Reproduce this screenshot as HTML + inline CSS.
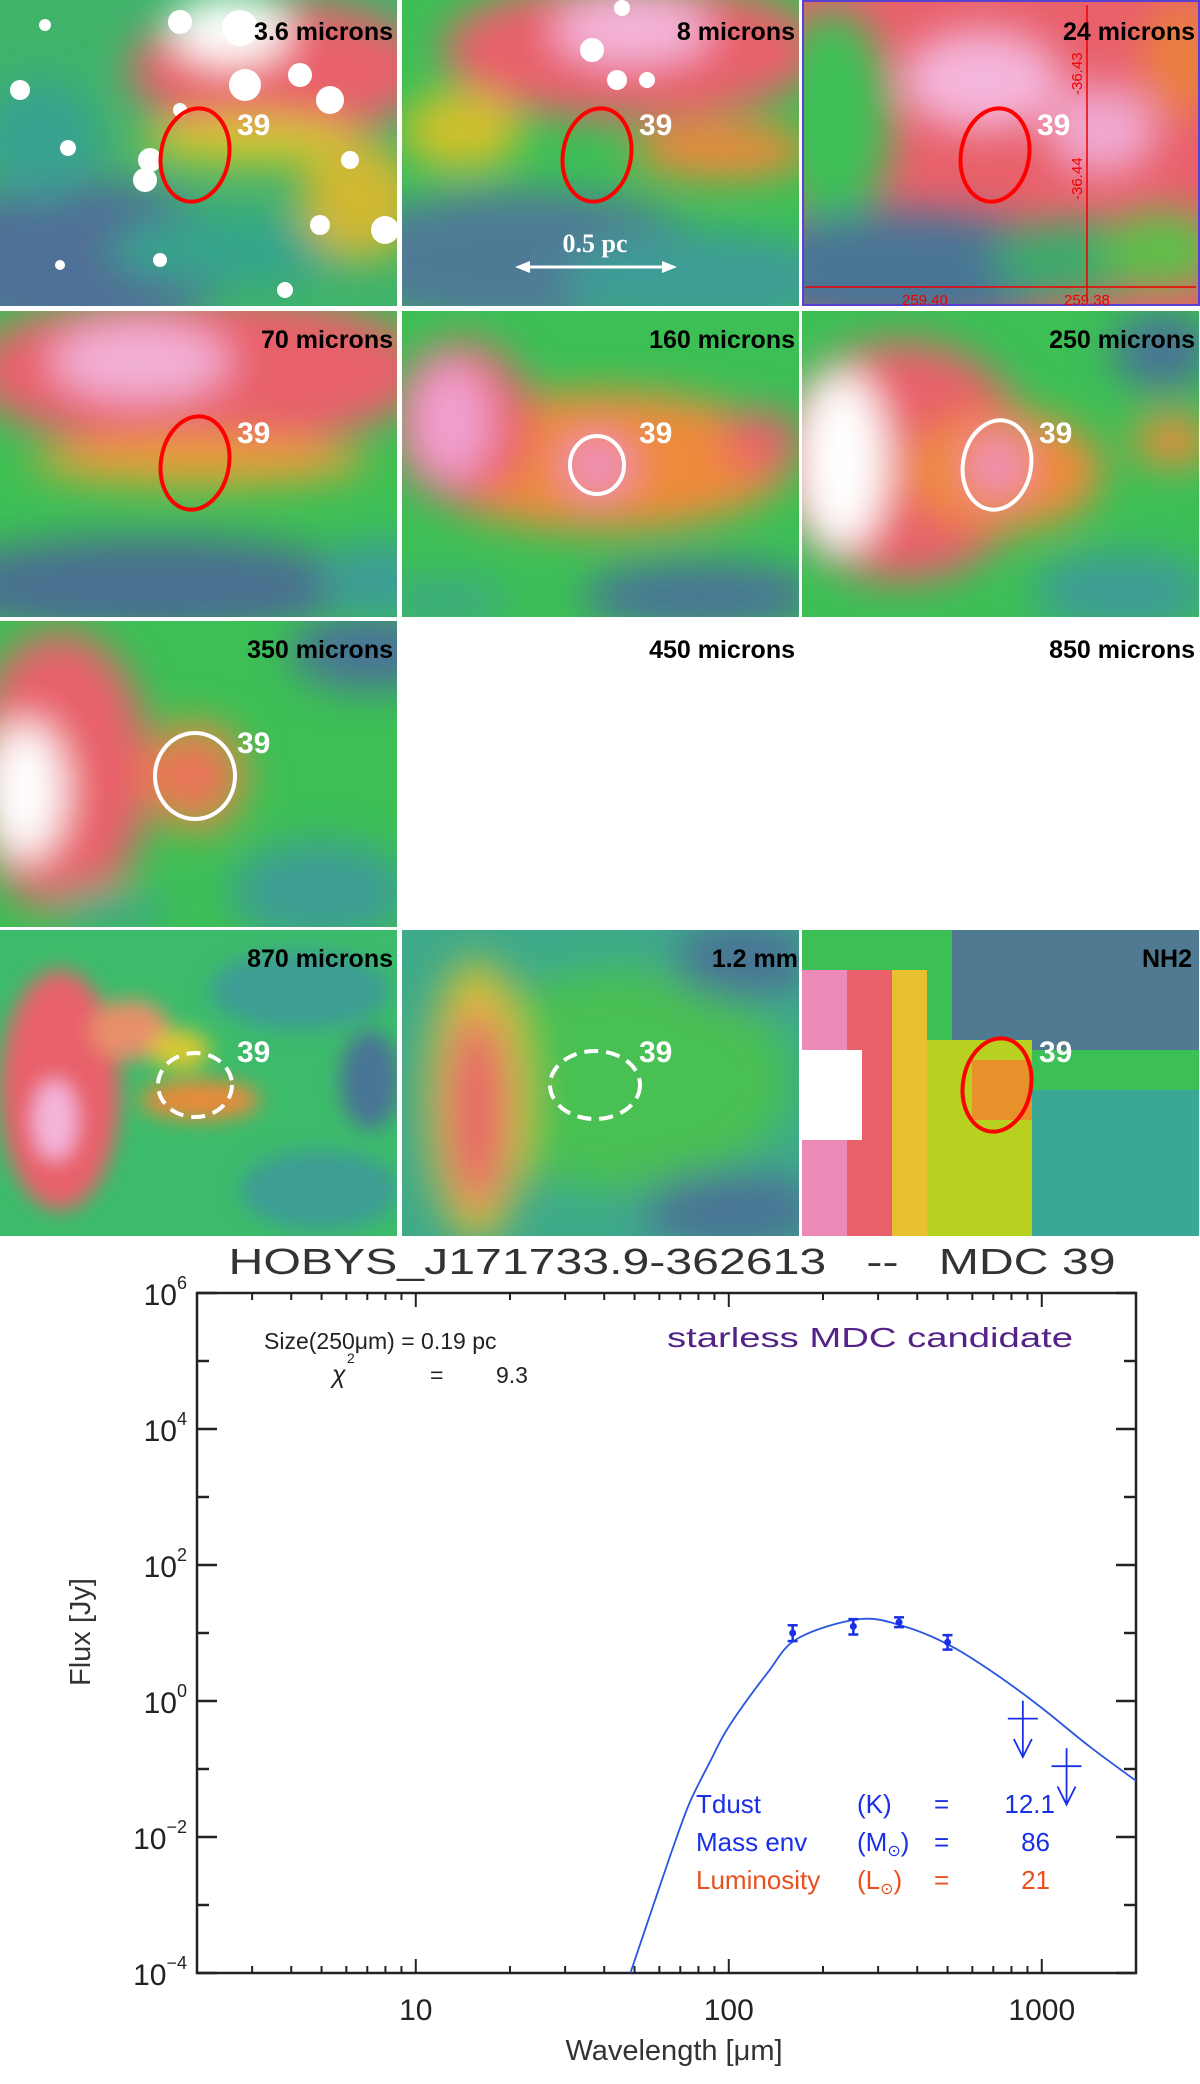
<!DOCTYPE html>
<html><head><meta charset="utf-8"><style>
html,body{margin:0;padding:0;background:#fff;}
svg{display:block;font-family:"Liberation Sans",sans-serif;}
.pl{font-weight:bold;font-size:25px;fill:#000;text-anchor:end;}
.id{font-weight:bold;font-size:30px;fill:#fff;}
</style></head><body>
<svg id="fig" width="1200" height="2084" viewBox="0 0 1200 2084">
<defs>
<filter id="b" x="-30%" y="-30%" width="160%" height="160%"><feGaussianBlur stdDeviation="20"/></filter>
<filter id="b2" x="-30%" y="-30%" width="160%" height="160%"><feGaussianBlur stdDeviation="10"/></filter>
<clipPath id="cp"><rect x="0" y="0" width="397" height="306"/></clipPath>
</defs>

<g transform="translate(0,0)">
<g clip-path="url(#cp)"><rect width="397" height="306" fill="#3fb36a"/>
<g filter="url(#b)">
<ellipse cx="80" cy="260" rx="150" ry="80" fill="#4f6f96"/>
<ellipse cx="40" cy="140" rx="60" ry="60" fill="#38a290"/>
<ellipse cx="230" cy="250" rx="120" ry="35" fill="#35a48c"/>
<ellipse cx="280" cy="70" rx="150" ry="70" fill="#e8606a"/>
<ellipse cx="250" cy="140" rx="110" ry="25" fill="#d4c62c"/>
<ellipse cx="360" cy="200" rx="60" ry="60" fill="#d0b830"/>
<ellipse cx="230" cy="30" rx="60" ry="35" fill="#fff"/>
</g>
<g fill="#fff">
<circle cx="240" cy="28" r="18"/><circle cx="180" cy="22" r="12"/><circle cx="245" cy="85" r="16"/><circle cx="300" cy="75" r="12"/><circle cx="330" cy="100" r="14"/><circle cx="150" cy="160" r="12"/><circle cx="145" cy="180" r="12"/><circle cx="68" cy="148" r="8"/><circle cx="385" cy="230" r="14"/><circle cx="320" cy="225" r="10"/><circle cx="45" cy="25" r="6"/><circle cx="160" cy="260" r="7"/><circle cx="60" cy="265" r="5"/><circle cx="350" cy="160" r="9"/><circle cx="285" cy="290" r="8"/><circle cx="20" cy="90" r="10"/><circle cx="180" cy="110" r="7"/>
</g></g>
<ellipse cx="195" cy="155" rx="34" ry="47" transform="rotate(10 195 155)" fill="none" stroke="#f00" stroke-width="4"/>
<text class="id" x="237" y="135">39</text>
<text class="pl" x="393" y="40">3.6 microns</text>
</g>

<g transform="translate(402,0)">
<g clip-path="url(#cp)"><rect width="397" height="306" fill="#3cbf55"/>
<g filter="url(#b)">
<ellipse cx="120" cy="260" rx="190" ry="70" fill="#4f7a96"/>
<ellipse cx="300" cy="280" rx="140" ry="50" fill="#3e9d95"/>
<ellipse cx="230" cy="50" rx="190" ry="70" fill="#e8606a"/>
<ellipse cx="230" cy="30" rx="80" ry="35" fill="#f4b6dc"/>
<ellipse cx="60" cy="130" rx="60" ry="40" fill="#d0c02c"/>
<ellipse cx="320" cy="150" rx="90" ry="30" fill="#e88a3a"/>
</g>
<g fill="#fff"><circle cx="190" cy="50" r="12"/><circle cx="215" cy="80" r="10"/><circle cx="245" cy="80" r="8"/><circle cx="220" cy="8" r="8"/></g></g>
<ellipse cx="195" cy="155" rx="34" ry="47" transform="rotate(10 195 155)" fill="none" stroke="#f00" stroke-width="4"/>
<text class="id" x="237" y="135">39</text>
<text class="pl" x="393" y="40">8 microns</text>
<g>
<line x1="120" y1="267" x2="268" y2="267" stroke="#fff" stroke-width="3"/>
<path d="M113 267 L128 261 L128 273 Z M275 267 L260 261 L260 273 Z" fill="#fff"/>
<text x="193" y="252" text-anchor="middle" font-family="Liberation Serif,serif" font-weight="bold" font-size="26" fill="#fff">0.5 pc</text>
</g>
</g>

<g transform="translate(802,0)">
<g clip-path="url(#cp)"><rect width="398" height="306" fill="#e8606a"/>
<g filter="url(#b)">
<ellipse cx="30" cy="120" rx="60" ry="110" fill="#3cbf55"/>
<ellipse cx="100" cy="270" rx="170" ry="60" fill="#4a7595"/>
<ellipse cx="270" cy="260" rx="80" ry="40" fill="#3eaa6a"/>
<ellipse cx="360" cy="250" rx="60" ry="40" fill="#5ec04a"/>
<ellipse cx="180" cy="80" rx="80" ry="50" fill="#f4b6dc"/>
<ellipse cx="300" cy="130" rx="55" ry="45" fill="#f0a8d0"/>
<ellipse cx="380" cy="60" rx="40" ry="60" fill="#ea8040"/>
</g></g>
<rect x="1" y="1" width="396" height="304" fill="none" stroke="#5a40d0" stroke-width="2"/>
<line x1="285" y1="5" x2="285" y2="300" stroke="#e00" stroke-width="1.5"/>
<line x1="3" y1="287" x2="394" y2="287" stroke="#e00" stroke-width="1.5"/>
<text transform="translate(280,95) rotate(-90)" font-size="15" fill="#e00">-36.43</text>
<text transform="translate(280,200) rotate(-90)" font-size="15" fill="#e00">-36.44</text>
<text x="100" y="305" font-size="15" fill="#e00">259.40</text><text x="262" y="305" font-size="15" fill="#e00">259.38</text>
<ellipse cx="193" cy="155" rx="34" ry="47" transform="rotate(10 193 155)" fill="none" stroke="#f00" stroke-width="4"/>
<text class="id" x="235" y="135">39</text>
<text class="pl" x="393" y="40">24 microns</text>
</g>

<g transform="translate(0,311)">
<g clip-path="url(#cp)"><rect width="397" height="306" fill="#3cbf55"/>
<g filter="url(#b)">
<ellipse cx="200" cy="60" rx="230" ry="80" fill="#e8606a"/>
<ellipse cx="140" cy="50" rx="90" ry="40" fill="#f2b0d6"/>
<ellipse cx="200" cy="150" rx="170" ry="25" fill="#e8a030"/>
<ellipse cx="150" cy="275" rx="220" ry="50" fill="#4a7090"/>
<ellipse cx="380" cy="270" rx="60" ry="40" fill="#3e9d95"/>
</g></g>
<ellipse cx="195" cy="152" rx="34" ry="47" transform="rotate(10 195 152)" fill="none" stroke="#f00" stroke-width="4"/>
<text class="id" x="237" y="132">39</text>
<text class="pl" x="393" y="37">70 microns</text>
</g>

<g transform="translate(402,311)">
<g clip-path="url(#cp)"><rect width="397" height="306" fill="#3cbf55"/>
<g filter="url(#b)">
<ellipse cx="200" cy="150" rx="190" ry="70" fill="#ee8a3a"/>
<ellipse cx="60" cy="110" rx="70" ry="80" fill="#e8606a"/>
<ellipse cx="50" cy="110" rx="40" ry="60" fill="#f0a0d0"/>
<ellipse cx="195" cy="155" rx="35" ry="30" fill="#f090c0"/>
<ellipse cx="360" cy="130" rx="40" ry="30" fill="#e8606a"/>
<ellipse cx="300" cy="285" rx="120" ry="35" fill="#4a7595"/>
<ellipse cx="40" cy="290" rx="70" ry="25" fill="#3eaa80"/>
</g></g>
<ellipse cx="195" cy="154" rx="27" ry="29" fill="none" stroke="#fff" stroke-width="4"/>
<text class="id" x="237" y="132">39</text>
<text class="pl" x="393" y="37">160 microns</text>
</g>

<g transform="translate(802,311)">
<g clip-path="url(#cp)"><rect width="398" height="306" fill="#3cbf55"/>
<g filter="url(#b)">
<ellipse cx="100" cy="150" rx="130" ry="120" fill="#e8606a"/>
<ellipse cx="40" cy="150" rx="45" ry="90" fill="#fff"/>
<ellipse cx="200" cy="160" rx="100" ry="60" fill="#ee8a3a"/>
<ellipse cx="195" cy="155" rx="30" ry="30" fill="#f090c0"/>
<ellipse cx="370" cy="130" rx="40" ry="25" fill="#ee8a3a"/>
<ellipse cx="360" cy="40" rx="50" ry="40" fill="#4a7595"/>
<ellipse cx="320" cy="280" rx="90" ry="40" fill="#3e9d95"/>
</g></g>
<ellipse cx="195" cy="154" rx="34" ry="45" transform="rotate(10 195 154)" fill="none" stroke="#fff" stroke-width="4"/>
<text class="id" x="237" y="132">39</text>
<text class="pl" x="393" y="37">250 microns</text>
</g>

<g transform="translate(0,621)">
<g clip-path="url(#cp)"><rect width="397" height="306" fill="#3cbf55"/>
<g filter="url(#b)">
<ellipse cx="60" cy="150" rx="90" ry="140" fill="#e8606a"/>
<ellipse cx="25" cy="170" rx="40" ry="70" fill="#fff"/>
<ellipse cx="195" cy="155" rx="50" ry="55" fill="#e88a3a"/>
<ellipse cx="195" cy="155" rx="25" ry="25" fill="#e8606a"/>
<ellipse cx="370" cy="30" rx="80" ry="40" fill="#4a7595"/>
<ellipse cx="320" cy="270" rx="90" ry="50" fill="#3e9d95"/>
<ellipse cx="110" cy="290" rx="60" ry="25" fill="#3eaa80"/>
</g></g>
<ellipse cx="195" cy="155" rx="40" ry="43" fill="none" stroke="#fff" stroke-width="4"/>
<text class="id" x="237" y="132">39</text>
<text class="pl" x="393" y="37">350 microns</text>
</g>

<text class="pl" x="795" y="658">450 microns</text>
<text class="pl" x="1195" y="658">850 microns</text>

<g transform="translate(0,930)">
<g clip-path="url(#cp)"><rect width="397" height="306" fill="#3cbb6a"/>
<g filter="url(#b2)">
<ellipse cx="60" cy="160" rx="60" ry="120" fill="#e8606a"/>
<ellipse cx="55" cy="190" rx="22" ry="40" fill="#f4b6dc"/>
<ellipse cx="130" cy="100" rx="40" ry="30" fill="#e8906a"/>
<ellipse cx="200" cy="170" rx="60" ry="20" fill="#e88a3a"/>
<ellipse cx="180" cy="120" rx="30" ry="20" fill="#d8c830"/>
<ellipse cx="300" cy="60" rx="90" ry="40" fill="#3e9d95"/>
<ellipse cx="320" cy="260" rx="80" ry="40" fill="#3e9d95"/>
<ellipse cx="370" cy="150" rx="30" ry="50" fill="#4a7595"/>
</g></g>
<ellipse cx="195" cy="155" rx="37" ry="32" fill="none" stroke="#fff" stroke-width="4" stroke-dasharray="14 8"/>
<text class="id" x="237" y="132">39</text>
<text class="pl" x="393" y="37">870 microns</text>
</g>

<g transform="translate(402,930)">
<g clip-path="url(#cp)"><rect width="397" height="306" fill="#3eaa8a"/>
<g filter="url(#b)">
<ellipse cx="220" cy="150" rx="170" ry="110" fill="#48c052"/>
<ellipse cx="75" cy="170" rx="50" ry="140" fill="#d8c030"/>
<ellipse cx="75" cy="180" rx="30" ry="100" fill="#e8606a"/>
<ellipse cx="340" cy="30" rx="70" ry="40" fill="#4a7595"/>
<ellipse cx="330" cy="280" rx="90" ry="40" fill="#4a7595"/>
</g></g>
<ellipse cx="193" cy="155" rx="45" ry="34" fill="none" stroke="#fff" stroke-width="4" stroke-dasharray="14 8"/>
<text class="id" x="237" y="132">39</text>
<text class="pl" x="396" y="37">1.2 mm</text>
</g>

<g transform="translate(802,930)">
<g clip-path="url(#cp)"><rect width="398" height="306" fill="#3cbf55"/>
<rect x="150" y="0" width="248" height="120" fill="#4f7a92"/>
<rect x="230" y="160" width="168" height="146" fill="#3aa894"/>
<rect x="100" y="110" width="130" height="196" fill="#b8d020"/>
<rect x="170" y="130" width="60" height="60" fill="#e8902a"/>
<rect x="0" y="40" width="90" height="266" fill="#e8606a"/>
<rect x="0" y="40" width="45" height="266" fill="#ee8ab8"/>
<rect x="0" y="120" width="60" height="90" fill="#fff"/>
<rect x="90" y="40" width="35" height="266" fill="#e8c030"/>
</g>
<ellipse cx="195" cy="155" rx="34" ry="47" transform="rotate(10 195 155)" fill="none" stroke="#f00" stroke-width="4"/>
<text class="id" x="237" y="132">39</text>
<text class="pl" x="390" y="37">NH2</text>
</g>

<g id="chart">
<text x="672" y="1274" text-anchor="middle" font-size="36" fill="#333" textLength="887" lengthAdjust="spacingAndGlyphs" xml:space="preserve">HOBYS_J171733.9-362613   --   MDC 39</text>
<g id="axes"></g>
<g id="marks"></g>
<text x="264" y="1349" font-size="23" fill="#222">Size(250μm) = 0.19 pc</text>
<text x="332" y="1383" font-size="25" fill="#222" font-style="italic">χ</text>
<text x="347" y="1363" font-size="14" fill="#222">2</text>
<text x="430" y="1383" font-size="23" fill="#222">=</text>
<text x="496" y="1383" font-size="23" fill="#222">9.3</text>
<text x="667" y="1347" font-size="28" fill="#552288" textLength="406" lengthAdjust="spacingAndGlyphs">starless MDC candidate</text>
<g font-size="26">
<text x="696" y="1813" fill="#1a30e6">Tdust</text><text x="857" y="1813" fill="#1a30e6">(K)</text><text x="934" y="1813" fill="#1a30e6">=</text><text x="1055" y="1813" fill="#1a30e6" text-anchor="end">12.1</text>
<text x="696" y="1851" fill="#1a30e6">Mass env</text><text x="857" y="1851" fill="#1a30e6">(M<tspan font-size="16" dy="5">⊙</tspan><tspan dy="-5">)</tspan></text><text x="934" y="1851" fill="#1a30e6">=</text><text x="1050" y="1851" fill="#1a30e6" text-anchor="end">86</text>
<text x="696" y="1889" fill="#e8501e">Luminosity</text><text x="857" y="1889" fill="#e8501e">(L<tspan font-size="16" dy="5">⊙</tspan><tspan dy="-5">)</tspan></text><text x="934" y="1889" fill="#e8501e">=</text><text x="1050" y="1889" fill="#e8501e" text-anchor="end">21</text>
</g>
<text transform="translate(90,1632) rotate(-90)" text-anchor="middle" font-size="29" fill="#333">Flux [Jy]</text>
<text x="674" y="2060" text-anchor="middle" font-size="29" fill="#333">Wavelength [μm]</text>
</g>
</svg>
<script>
const NS = "http://www.w3.org/2000/svg";
const xTickValues = [10, 100, 1000];
const xTickLabels = ["10", "100", "1000"];
const yTickExponents = [6, 5, 4, 3, 2, 1, 0, -1, -2, -3, -4];
const yLabelExponents = ["6", "4", "2", "0", "-2", "-4"];
const obsWavelength = [160, 250, 350, 500];
const obsFlux = [10, 12.5, 14.4, 7.3];
const obsErrLow = [7.6, 9.5, 12.2, 5.7];
const obsErrHigh = [13, 16, 17, 9.3];
const limWavelength = [870, 1200];
const limFlux = [0.55, 0.11];
const limArrowEnd = [0.15, 0.03];
const modelWavelength = [48.5, 60, 67, 75, 87, 100, 133, 166, 262, 367, 514, 720, 1000, 1410, 2000];
const modelFlux = [1e-4, 1.8e-3, 7.9e-3, 0.032, 0.126, 0.42, 2.6, 8.3, 16, 12.3, 6.4, 2.4, 0.79, 0.22, 0.067];

const X0 = 197, X1 = 1136, Y0 = 1293, Y1 = 1973;
const LXMIN = Math.log10(2), LXMAX = Math.log10(2000), LYMIN = -4, LYMAX = 6;
function xs(v){ return X0 + (Math.log10(v) - LXMIN) / (LXMAX - LXMIN) * (X1 - X0); }
function ys(v){ return Y1 - (Math.log10(v) - LYMIN) / (LYMAX - LYMIN) * (Y1 - Y0); }
function mk(tag, attrs, parent){ const e = document.createElementNS(NS, tag); for (const k in attrs) e.setAttribute(k, attrs[k]); parent.appendChild(e); return e; }

const axes = document.getElementById('axes');
const marks = document.getElementById('marks');
const frame = mk('rect', {x:X0, y:Y0, width:X1-X0, height:Y1-Y0, fill:'none', stroke:'#222', 'stroke-width':2.5}, axes);



for (let d = 0; d <= 3; d++) {
  for (let m = 1; m <= 9; m++) {
    const v = m * Math.pow(10, d);
    if (v < 2 || v > 2000) continue;
    const x = xs(v), len = (m === 1) ? 14 : 7;
    mk('line', {x1:x, y1:Y1, x2:x, y2:Y1-len, stroke:'#222', 'stroke-width':2}, axes);
    mk('line', {x1:x, y1:Y0, x2:x, y2:Y0+len, stroke:'#222', 'stroke-width':2}, axes);
  }
}
xTickValues.forEach((v, i) => {
  const t = mk('text', {x:xs(v), y:2020, 'text-anchor':'middle', 'font-size':30, fill:'#222'}, axes);
  t.textContent = xTickLabels[i];
  
  
});
yTickExponents.forEach(e => {
  const y = ys(Math.pow(10, e)), len = (e % 2 === 0) ? 20 : 12;
  mk('line', {x1:X0, y1:y, x2:X0+len, y2:y, stroke:'#222', 'stroke-width':2.5}, axes);
  mk('line', {x1:X1, y1:y, x2:X1-len, y2:y, stroke:'#222', 'stroke-width':2.5}, axes);
});
yLabelExponents.forEach(s => {
  const y = ys(Math.pow(10, Number(s)));
  const t = mk('text', {x:187, y:y+12, 'text-anchor':'end', 'font-size':30, fill:'#222'}, axes);
  
  
  const a = mk('tspan', {}, t); a.textContent = '10';
  const b = mk('tspan', {'font-size':18, dy:-16}, t); b.textContent = s.replace('-', '−');
});

const pts = modelWavelength.map((w, i) => [xs(w), ys(modelFlux[i])]);
let d = 'M' + pts[0][0].toFixed(1) + ' ' + pts[0][1].toFixed(1);
for (let i = 0; i < pts.length - 1; i++) {
  const p0 = pts[Math.max(0, i-1)], p1 = pts[i], p2 = pts[i+1], p3 = pts[Math.min(pts.length-1, i+2)];
  const c1x = p1[0] + (p2[0]-p0[0])/6, c1y = p1[1] + (p2[1]-p0[1])/6;
  const c2x = p2[0] - (p3[0]-p1[0])/6, c2y = p2[1] - (p3[1]-p1[1])/6;
  d += ' C' + c1x.toFixed(1) + ' ' + c1y.toFixed(1) + ' ' + c2x.toFixed(1) + ' ' + c2y.toFixed(1) + ' ' + p2[0].toFixed(1) + ' ' + p2[1].toFixed(1);
}
const curve = mk('path', {d:d, fill:'none', stroke:'#2a55e0', 'stroke-width':1.8, 'stroke-linejoin':'round'}, marks);



obsWavelength.forEach((w, i) => {
  const g = mk('g', {stroke:'#1a30e6', 'stroke-width':2.5, fill:'#1a30e6'}, marks);
  
  
  const x = xs(w), yl = ys(obsErrLow[i]), yh = ys(obsErrHigh[i]);
  mk('line', {x1:x, y1:yl, x2:x, y2:yh}, g);
  mk('line', {x1:x-5, y1:yl, x2:x+5, y2:yl}, g);
  mk('line', {x1:x-5, y1:yh, x2:x+5, y2:yh}, g);
  mk('circle', {cx:x, cy:ys(obsFlux[i]), r:3.5, stroke:'none'}, g);
});
limWavelength.forEach((w, i) => {
  const g = mk('g', {stroke:'#1a30e6', 'stroke-width':1.8, fill:'none'}, marks);
  
  
  const x = xs(w), y = ys(limFlux[i]), ye = ys(limArrowEnd[i]);
  mk('line', {x1:x-15, y1:y, x2:x+15, y2:y}, g);
  mk('line', {x1:x, y1:y-18, x2:x, y2:ye}, g);
  mk('polyline', {points:(x-9)+','+(ye-18)+' '+x+','+ye+' '+(x+9)+','+(ye-18)}, g);
});
</script>
</body></html>
